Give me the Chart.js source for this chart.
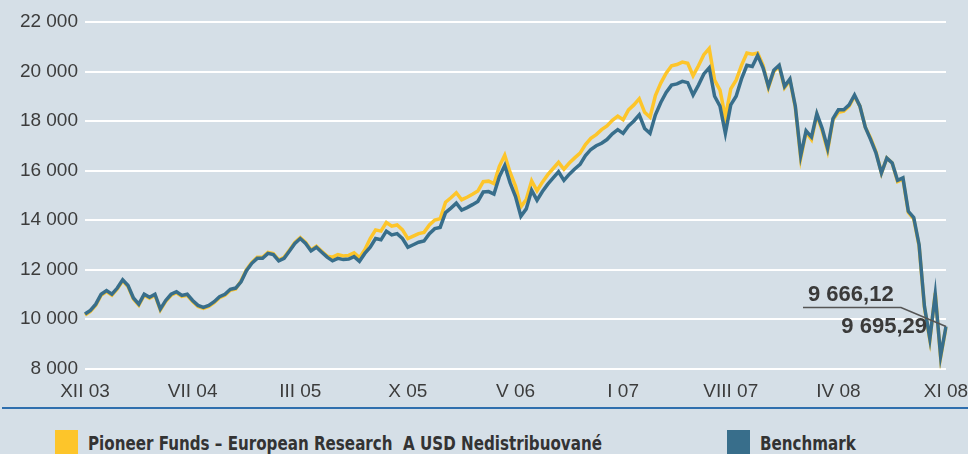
<!DOCTYPE html>
<html>
<head>
<meta charset="utf-8">
<script src="https://cdn.jsdelivr.net/npm/chart.js@4.4.1/dist/chart.umd.min.js"></script>
<style>
  html, body { margin: 0; padding: 0; background: #d5dfe7; }
  #wrap { position: relative; width: 968px; height: 454px; overflow: hidden; background: #d5dfe7; }
  #box { position: absolute; left: 0; top: 0; width: 968px; height: 405px; }
  #rule { position: absolute; left: 2px; right: 0; top: 407px; height: 2px; background: #2f6fae; }
  .key { position: absolute; top: 430px; width: 23px; height: 24px; }
  .lbl { position: absolute; top: 432px; font: bold 19px "DejaVu Sans Condensed", "Liberation Sans", sans-serif; color: #333; white-space: nowrap; transform: scaleX(0.885); transform-origin: left top; }
</style>
</head>
<body>
<div id="wrap">
  <div id="box"><canvas id="chart"></canvas></div>
  <div id="rule"></div>
  <div class="key" style="left:55px;background:#fdc52a"></div>
  <div class="lbl" style="left:88px">Pioneer Funds – European Research&nbsp; A USD Nedistribuované</div>
  <div class="key" style="left:727px;background:#386e8b"></div>
  <div class="lbl" style="left:760px">Benchmark</div>
</div>
<script>
// x-axis tick labels (evenly spaced, every 20 observations)
const tickLabels = ['XII 03', 'VII 04', 'III 05', 'X 05', 'V 06', 'I 07', 'VIII 07', 'IV 08', 'XI 08'];
const stepPerTick = 20;

// Benchmark
const benchmark = [
  10200, 10350, 10600, 11000, 11150, 11000, 11250, 11580, 11350, 10850,
  10600, 11000, 10880, 11000, 10400, 10750, 11000, 11100, 10950, 11000,
  10750, 10550, 10470, 10550, 10700, 10900, 11000, 11200, 11250, 11500,
  11950, 12250, 12450, 12450, 12650, 12600, 12350, 12450, 12750, 13050,
  13250, 13050, 12750, 12900, 12700, 12500, 12350, 12450, 12400, 12420,
  12520, 12330, 12650, 12900, 13250, 13200, 13550, 13400, 13450, 13250,
  12900, 13000, 13100, 13150, 13450, 13650, 13700, 14300, 14480, 14680,
  14400, 14500, 14620, 14750, 15130, 15150, 15050, 15750, 16200, 15500,
  14950, 14150, 14450, 15200, 14800, 15150, 15450, 15700, 15950, 15600,
  15850, 16060, 16250, 16600, 16850, 17000, 17100, 17250, 17480, 17650,
  17500, 17800, 18000, 18250, 17700, 17500, 18250, 18750, 19150, 19450,
  19500, 19600, 19550, 19050, 19450, 19900, 20150, 19000, 18600, 17500,
  18650, 19000, 19700, 20250, 20200, 20650, 20150, 19400, 20050, 20250,
  19400, 19700, 18600, 16600, 17600, 17350, 18300, 17700, 16900, 18100,
  18450, 18450, 18650, 19050, 18600, 17750, 17250, 16700, 15900, 16500,
  16300, 15600, 15700, 14350, 14100, 13000, 10500, 9200, 11000, 8500,
  9695.29
];

// Pioneer Funds - European Research A USD
const fund = [
  10160, 10310, 10560, 10960, 11110, 10960, 11210, 11540, 11310, 10810,
  10560, 10960, 10840, 10960, 10360, 10710, 10960, 11060, 10910, 10960,
  10710, 10510, 10430, 10510, 10660, 10860, 10960, 11160, 11210, 11540,
  11990, 12290, 12490, 12490, 12690, 12640, 12390, 12490, 12790, 13090,
  13290, 13090, 12790, 12940, 12740, 12540, 12500, 12600, 12550, 12570,
  12670, 12480, 12800, 13250, 13600, 13550, 13900, 13750, 13800, 13600,
  13250, 13350, 13450, 13500, 13800, 14000, 14050, 14720, 14900, 15100,
  14820, 14920, 15040, 15170, 15550, 15570, 15470, 16170, 16620, 15920,
  15370, 14530, 14830, 15580, 15180, 15530, 15830, 16080, 16330, 16050,
  16300, 16510, 16700, 17050, 17300, 17450, 17650, 17800, 18030, 18200,
  18050, 18450, 18650, 18900, 18350, 18150, 19030, 19530, 19930, 20230,
  20280, 20380, 20330, 19830, 20230, 20680, 20930, 19650, 19250, 18150,
  19300, 19650, 20250, 20750, 20700, 20750, 20250, 19350, 20000, 20200,
  19350, 19650, 18550, 16500, 17550, 17250, 18250, 17600, 16800, 18050,
  18350, 18400, 18600, 19000, 18600, 17750, 17300, 16750, 15900, 16500,
  16300, 15550, 15650, 14300, 14050, 12950, 10450, 9150, 11050, 8450,
  9666.12
];

const yTicks = { min: 8000, max: 22000, step: 2000 };

function spaced(n) {
  return String(n).replace(/\B(?=(\d{3})+(?!\d))/g, ' ');
}
function money(v) {
  const parts = v.toFixed(2).split('.');
  return spaced(parts[0]) + ',' + parts[1];
}

const labels = benchmark.map((v, i) => i);

const endNotes = {
  id: 'endNotes',
  afterDatasetsDraw(chart) {
    const ctx = chart.ctx;
    const xs = chart.scales.x, ys = chart.scales.y;
    const last = benchmark.length - 1;
    const px = xs.getPixelForValue(last);
    const py = ys.getPixelForValue(benchmark[last]);
    ctx.save();
    ctx.strokeStyle = '#555';
    ctx.lineWidth = 1.6;
    ctx.beginPath();
    ctx.moveTo(px - 143, py - 19);
    ctx.lineTo(px - 45, py - 19);
    ctx.lineTo(px, py);
    ctx.stroke();
    ctx.fillStyle = '#3a3a3a';
    ctx.font = 'bold 22px "Liberation Sans", Arial, sans-serif';
    ctx.textBaseline = 'alphabetic';
    ctx.textAlign = 'left';
    ctx.fillText(money(fund[last]), px - 138, py - 26);
    ctx.textAlign = 'right';
    ctx.fillText(money(benchmark[last]), px - 19, py + 6);
    ctx.restore();
  }
};

new Chart(document.getElementById('chart'), {
  type: 'line',
  data: {
    labels: labels,
    datasets: [
      {
        label: 'Benchmark',
        data: benchmark,
        borderColor: '#386e8b',
        borderWidth: 3.5,
        pointRadius: 0,
        tension: 0,
        order: 0
      },
      {
        label: 'Pioneer Funds – European Research  A USD Nedistribuované',
        data: fund,
        borderColor: '#fdc52a',
        borderWidth: 3.5,
        pointRadius: 0,
        tension: 0,
        order: 1
      }
    ]
  },
  options: {
    responsive: true,
    maintainAspectRatio: false,
    animation: false,
    layout: { padding: { top: 22, right: 22, bottom: 0, left: 0 } },
    plugins: { legend: { display: false }, tooltip: { enabled: false } },
    scales: {
      x: {
        type: 'category',
        offset: false,
        grid: { display: false, drawTicks: false },
        border: { display: false },
        ticks: {
          autoSkip: false,
          maxRotation: 0,
          padding: 12,
          color: '#3c3c3c',
          font: { family: '"Liberation Sans", Arial, sans-serif', size: 19 },
          callback: (v, i) => (i % stepPerTick === 0 ? tickLabels[i / stepPerTick] : null)
        },
        afterFit(scale) { scale.paddingLeft = 0; scale.paddingRight = 0; scale.height = 36.5; }
      },
      y: {
        min: yTicks.min,
        max: yTicks.max,
        grid: { color: '#ffffff', lineWidth: 2, drawTicks: false },
        border: { display: false },
        ticks: {
          stepSize: yTicks.step,
          padding: 7,
          color: '#3c3c3c',
          font: { family: '"Liberation Sans", Arial, sans-serif', size: 19 },
          callback: v => spaced(v)
        },
        afterFit(scale) { scale.width = 85; scale.paddingTop = 0; scale.paddingBottom = 0; }
      }
    }
  },
  plugins: [endNotes]
});
</script>
</body>
</html>
